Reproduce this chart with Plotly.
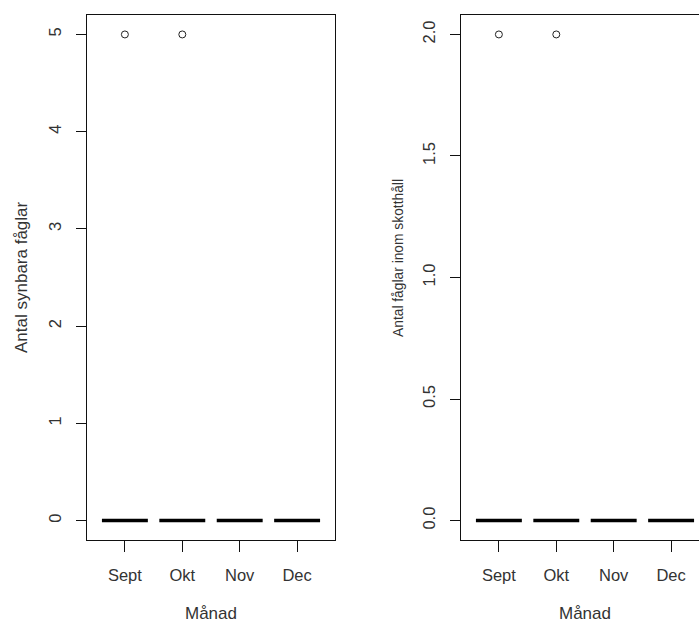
import plotly.graph_objects as go

months = ["Sept", "Okt", "Nov", "Dec"]

# Antal synbara fåglar (observations per month)
synbara_sept = [0, 0, 0, 0, 0, 0, 0, 0, 0, 0, 5]
synbara_okt = [0, 0, 0, 0, 0, 0, 0, 0, 0, 0, 5]
synbara_nov = [0, 0, 0, 0, 0, 0, 0, 0, 0, 0, 0]
synbara_dec = [0, 0, 0, 0, 0, 0, 0, 0, 0, 0, 0]

# Antal fåglar inom skotthåll
skotthall_sept = [0, 0, 0, 0, 0, 0, 0, 0, 0, 0, 2]
skotthall_okt = [0, 0, 0, 0, 0, 0, 0, 0, 0, 0, 2]
skotthall_nov = [0, 0, 0, 0, 0, 0, 0, 0, 0, 0, 0]
skotthall_dec = [0, 0, 0, 0, 0, 0, 0, 0, 0, 0, 0]

left_ticks = [0, 1, 2, 3, 4, 5]
right_ticks = [0.0, 0.5, 1.0, 1.5, 2.0]

W, H = 699, 620
FONT = "Liberation Sans, Arial, sans-serif"
TXT = "#333333"
TICK_SIZE = 16.5
TITLE_SIZE = 17

fig = go.Figure()

def add_box(values, month, xa, ya):
    fig.add_trace(go.Box(
        x=[month] * len(values), y=values,
        xaxis=xa, yaxis=ya,
        boxpoints="outliers", pointpos=0, jitter=0,
        width=0.8, whiskerwidth=0.5,
        line=dict(color="black", width=3.5),
        fillcolor="rgba(0,0,0,0)",
        marker=dict(symbol="circle-open", size=7, color="#222",
                    line=dict(width=1, color="#222")),
        showlegend=False, hoverinfo="skip",
    ))

for vals, m in zip([synbara_sept, synbara_okt, synbara_nov, synbara_dec], months):
    add_box(vals, m, "x", "y")
for vals, m in zip([skotthall_sept, skotthall_okt, skotthall_nov, skotthall_dec], months):
    add_box(vals, m, "x2", "y2")

def px_x(p):
    return p / W

def px_y(p):
    return 1 - p / H

ydom = [px_y(540), px_y(15)]

common_x = dict(type="category", categoryorder="array", categoryarray=months,
                showline=True, linecolor="#111", linewidth=1,
                ticks="outside", ticklen=11, tickcolor="#111", tickwidth=1,
                showgrid=False, zeroline=False,
                tickfont=dict(family=FONT, size=TICK_SIZE, color=TXT),
                ticklabelstandoff=9, fixedrange=True)
common_y = dict(showline=True, linecolor="#111", linewidth=1,
                ticks="outside", ticklen=10, tickcolor="#111", tickwidth=1,
                showgrid=False, zeroline=False, tickangle=-90,
                tickfont=dict(family=FONT, size=TICK_SIZE, color=TXT),
                ticklabelstandoff=8, fixedrange=True)

def ann(text, x, y, size, angle=0, family=FONT):
    return dict(text=text, x=px_x(x), y=px_y(y), xref="paper", yref="paper",
                xanchor="center", yanchor="middle", showarrow=False,
                textangle=angle, font=dict(family=family, size=size, color=TXT))

fig.update_layout(
    width=W, height=H,
    margin=dict(l=0, r=0, t=0, b=0),
    paper_bgcolor="white", plot_bgcolor="white",
    xaxis=dict(domain=[px_x(87), px_x(335)], range=[-0.66, 3.66], mirror=True,
               anchor="y", **common_x),
    yaxis=dict(domain=ydom, range=[-0.2, 5.2], tickvals=left_ticks, mirror=True,
               anchor="x", **common_y),
    xaxis2=dict(domain=[px_x(461), 1.0], range=[-0.66, 3.486], mirror=True,
                anchor="y2", **common_x),
    yaxis2=dict(domain=ydom, range=[-0.08, 2.08], tickvals=right_ticks,
                tickformat=".1f", mirror=False, anchor="x2", **common_y),
    annotations=[
        ann("Månad", 211, 613, TITLE_SIZE),
        ann("Månad", 585, 613, TITLE_SIZE),
        ann("Antal synbara fåglar", 21, 277, TITLE_SIZE, -90),
        ann("Antal fåglar inom skotthåll", 398, 258, 13.8, -90),
    ],
)

fig.write_html("out.html", config={"displayModeBar": False, "staticPlot": True},
               post_script="document.body.style.margin='0';document.body.style.overflow='hidden';")
